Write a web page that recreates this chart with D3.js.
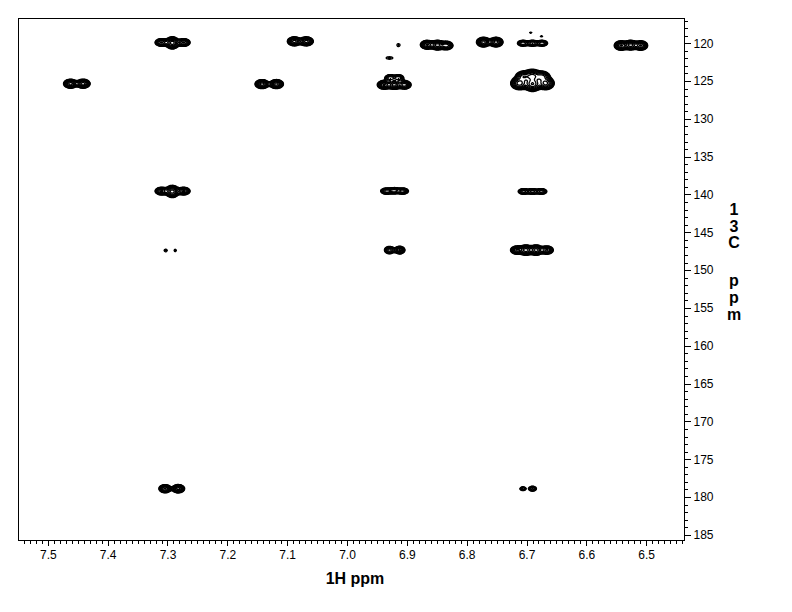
<!DOCTYPE html>
<html><head><meta charset="utf-8">
<script src="https://cdn.jsdelivr.net/npm/d3@7"></script>
<style>body{margin:0;background:#fff}svg{display:block}</style></head>
<body><svg id="c" width="792" height="612"></svg>
<script>
// ---- data ----
const xTicks = [7.5, 7.4, 7.3, 7.2, 7.1, 7.0, 6.9, 6.8, 6.7, 6.6, 6.5];
const yTicks = [120, 125, 130, 135, 140, 145, 150, 155, 160, 165, 170, 175, 180, 185];
const xDomain = [7.549, 6.436];
const yDomain = [116.73, 185.75];
const xTitle = "1H ppm";
const yTitleChars = ["1", "3", "C", "p", "p", "m"];
// peak lobes: 1H shift, 13C shift, 1H width, 13C width (ppm), relative intensity
const peakH = [7.310,7.292,7.273, 7.088,7.068, 6.914, 6.929, 6.866,6.849,6.834, 6.772,6.751,
  6.706,6.690,6.674,6.693,6.675, 6.542,6.526,6.509, 7.462,7.441, 7.142,7.118,
  6.938,6.921,6.904,6.928,6.914, 6.705,6.690,6.674,6.712,6.690,6.668,
  7.310,7.292,7.273, 6.934,6.921,6.907, 6.705,6.690,6.675, 7.303,7.287, 6.929,6.912,
  6.716,6.701,6.684,6.666, 7.304,7.282, 6.706,6.690];
const peakC = [119.9,119.95,119.9, 119.75,119.75, 120.25, 121.95, 120.2,120.25,120.3, 119.85,119.85,
  120.0,120.0,120.0,118.62,119.07, 120.3,120.25,120.3, 125.35,125.35, 125.4,125.4,
  125.5,125.5,125.5,124.6,124.6, 124.4,124.3,124.4,125.3,125.4,125.3,
  139.55,139.6,139.55, 139.55,139.5,139.55, 139.6,139.6,139.6, 147.4,147.4, 147.35,147.35,
  147.35,147.35,147.35,147.35, 178.9,178.9, 178.9,178.9];
const peakWH = [0.0055,0.0055,0.0055, 0.0055,0.0055, 0.0033, 0.0065, 0.0055,0.0055,0.0055, 0.0055,0.0055,
  0.0052,0.0052,0.0052,0.003,0.003, 0.0055,0.0055,0.0055, 0.0055,0.0055, 0.0055,0.0055,
  0.0055,0.0055,0.0055,0.005,0.005, 0.0065,0.0065,0.0065,0.0068,0.0068,0.0068,
  0.0055,0.0055,0.0055, 0.0052,0.0052,0.0052, 0.0052,0.0052,0.0052, 0.0028,0.0022, 0.0045,0.0045,
  0.0055,0.0055,0.0055,0.0055, 0.005,0.005, 0.0035,0.004];
const peakWC = [0.26,0.38,0.26, 0.28,0.28, 0.25, 0.19, 0.28,0.3,0.28, 0.3,0.3,
  0.22,0.22,0.22,0.12,0.12, 0.3,0.3,0.3, 0.28,0.28, 0.28,0.28,
  0.28,0.28,0.28,0.25,0.25, 0.36,0.42,0.36, 0.4,0.45,0.4,
  0.26,0.38,0.26, 0.22,0.22,0.22, 0.22,0.22,0.22, 0.18,0.18, 0.26,0.26,
  0.28,0.32,0.32,0.28, 0.26,0.26, 0.17,0.2];
const peakI = [0.7,1,0.7, 1,1, 0.14, 0.15, 0.9,1,0.8, 1,1,
  0.5,0.5,0.5,0.13,0.13, 0.9,1,0.9, 1,1, 1,1,
  0.9,1,0.8,0.5,0.5, 0.75,0.85,0.7,1,1.1,0.95,
  0.7,1,0.7, 0.6,0.6,0.6, 0.45,0.45,0.45, 0.16,0.15, 0.6,0.7,
  0.7,1,1,0.7, 0.9,1, 0.3,0.4];
const contourLevels = [0.1, 0.13, 0.17, 0.22, 0.29, 0.38, 0.5, 0.65, 0.85, 1.1];

// ---- layout ----
const L = 18, T = 18, R = 684, B = 540;
const W = R - L, H = B - T;
const svg = d3.select("#c");
const x = d3.scaleLinear().domain(xDomain).range([L, R]);
const y = d3.scaleLinear().domain(yDomain).range([T, B]);
const font = "Arial, 'Liberation Sans', sans-serif";

// ---- spectrum grid from peak list ----
const grid = new Float64Array(W * H);
peakH.forEach((h, k) => {
  const cx = x(h) - L, cy = y(peakC[k]) - T;
  const sx = Math.abs(x(h + peakWH[k]) - x(h));
  const sy = Math.abs(y(peakC[k] + peakWC[k]) - y(peakC[k]));
  const x0 = Math.max(0, Math.floor(cx - 5 * sx)), x1 = Math.min(W - 1, Math.ceil(cx + 5 * sx));
  const y0 = Math.max(0, Math.floor(cy - 5 * sy)), y1 = Math.min(H - 1, Math.ceil(cy + 5 * sy));
  for (let j = y0; j <= y1; j++) for (let i = x0; i <= x1; i++) {
    const dx = (i - cx) / sx, dy = (j - cy) / sy;
    grid[j * W + i] += peakI[k] * Math.exp(-0.5 * (dx * dx + dy * dy));
  }
});
const contours = d3.contours().size([W, H]).thresholds(contourLevels)(grid);
svg.append("g").attr("transform", `translate(${L},${T})`)
  .selectAll("path").data(contours).join("path")
  .attr("d", d3.geoPath())
  .attr("fill", "none").attr("stroke", "#000").attr("stroke-width", 1.3)
  .attr("stroke-linejoin", "round");

// ---- frame ----
svg.append("rect").attr("x", L + 0.5).attr("y", T + 0.5).attr("width", W).attr("height", H)
  .attr("fill", "none").attr("stroke", "#000").attr("stroke-width", 1).attr("shape-rendering", "crispEdges");

// ---- x axis ----
const xMinor = d3.range(644, 755).map(v => v / 100).filter(v => v <= xDomain[0] && v >= xDomain[1]);
const gxm = svg.append("g").attr("transform", `translate(0.5,${B + 0.5})`)
  .call(d3.axisBottom(x).tickValues(xMinor).tickSize(3).tickSizeOuter(0).tickFormat(""));
const gx = svg.append("g").attr("transform", `translate(0.5,${B + 0.5})`)
  .call(d3.axisBottom(x).tickValues(xTicks).tickSize(5).tickSizeOuter(0).tickPadding(5).tickFormat(d3.format(".1f")));
[gxm, gx].forEach(g => { g.select(".domain").remove(); g.selectAll("line").attr("stroke", "#000").attr("shape-rendering", "crispEdges"); });
gx.selectAll("text").attr("font-family", font).attr("font-size", 12).attr("fill", "#000");

// ---- y axis (right) ----
const yMinor = d3.range(117, 186);
const gym = svg.append("g").attr("transform", `translate(${R + 0.5},0.5)`)
  .call(d3.axisRight(y).tickValues(yMinor).tickSize(3).tickSizeOuter(0).tickFormat(""));
const gy = svg.append("g").attr("transform", `translate(${R + 0.5},0.5)`)
  .call(d3.axisRight(y).tickValues(yTicks).tickSize(6).tickSizeOuter(0).tickPadding(3).tickFormat(d3.format("d")));
[gym, gy].forEach(g => { g.select(".domain").remove(); g.selectAll("line").attr("stroke", "#000").attr("shape-rendering", "crispEdges"); });
gy.selectAll("text").attr("font-family", font).attr("font-size", 12).attr("fill", "#000");

// ---- titles ----
svg.append("text").attr("x", 355).attr("y", 584).attr("text-anchor", "middle")
  .attr("font-family", font).attr("font-size", 16).attr("font-weight", "bold").text(xTitle);
const yTitleY = [215, 232, 248, 286, 303, 320];
svg.append("g").selectAll("text").data(yTitleChars).join("text")
  .attr("x", 734).attr("y", (d, i) => yTitleY[i]).attr("text-anchor", "middle")
  .attr("font-family", font).attr("font-size", 16).attr("font-weight", "bold").text(d => d);
</script>
</body></html>
